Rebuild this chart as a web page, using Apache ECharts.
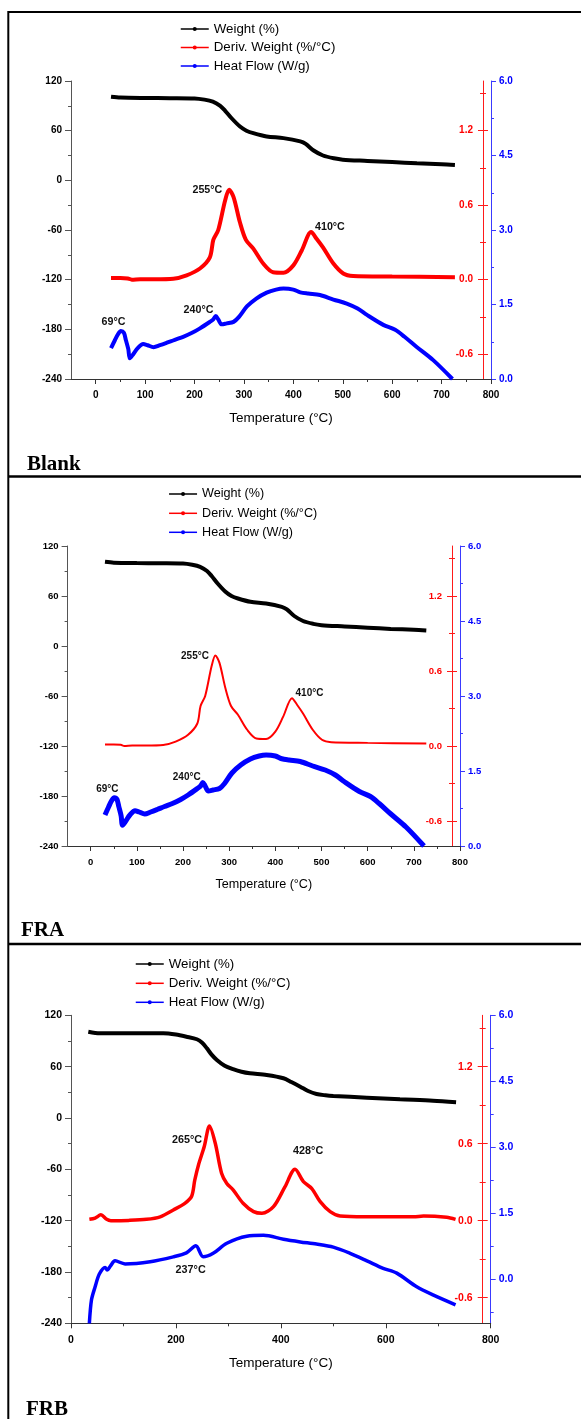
<!DOCTYPE html>
<html><head><meta charset="utf-8">
<script src="https://cdn.jsdelivr.net/npm/echarts@6/dist/echarts.min.js"></script>
<style>html,body{margin:0;padding:0;background:#fff}#c{width:581px;height:1419px}</style>
</head><body><div id="c"></div>
<script>
// ---------- tick labels ----------
const xTicks100 = [0,100,200,300,400,500,600,700,800];
const xMinor100 = [50,150,250,350,450,550,650,750];
const xTicks200 = [0,200,400,600,800];
const xMinor200 = [100,300,500,700];
const derivTicks = [-0.6,0,0.6,1.2];
const derivMinor = [-0.3,0.3,0.9,1.5];
const heatTicks = [0,1.5,3,4.5,6];
const heatMinorAB = [0.75,2.25,3.75,5.25];
const heatMinorC = [-0.75,0.75,2.25,3.75,5.25];
const seriesNames = ['Weight (%)','Deriv. Weight (%/°C)','Heat Flow (W/g)'];
const panelNames = ['Blank','FRA','FRB'];

// ---------- Blank (FRA curves are identical in the picture) ----------
const blankWeightT = [31,50,100,150,200,220,237,252,262,275,292,305,319,346,380,414,425,441,460,482,500,550,600,650,700,727];
const blankWeight  = [101,100,99.5,99.3,99,97.5,95,90,84,75,65,60,57,53,51,47,44,36,30,26.6,25,23.5,22,20.5,19.5,18.6];
const blankDerivT = [31,50,65,73,90,120,157,184,211,231,238,248,262,270,279,292,304,319,339,359,380,400,417,436,447,460,481,501,521,600,727];
const blankDeriv  = [0.013,0.013,0.01,0.0,0.004,0.004,0.008,0.035,0.09,0.18,0.32,0.40,0.64,0.725,0.665,0.46,0.32,0.25,0.13,0.06,0.056,0.115,0.235,0.383,0.33,0.26,0.13,0.05,0.03,0.025,0.02];
const blankHeatT = [31,39,45,51,57,61,66,69,76,85,96,105,117,130,144,160,177,195,211,231,238,243,248,255,265,279,290,306,325,346,365,380,400,414,430,454,481,508,530,549,582,606,625,649,683,722];
const blankHeat  = [0.62,0.785,0.9,0.966,0.93,0.785,0.6,0.416,0.50,0.62,0.705,0.68,0.64,0.68,0.73,0.79,0.85,0.93,1.02,1.15,1.2,1.27,1.2,1.10,1.12,1.15,1.25,1.46,1.62,1.74,1.80,1.82,1.80,1.745,1.72,1.69,1.6,1.52,1.42,1.29,1.09,0.99,0.85,0.65,0.38,0.0];
const blankDerivNotes = [{name:'255°C', T:226, v:0.72},{name:'410°C', T:474, v:0.42}];
const blankHeatNotes  = [{name:'69°C', T:36, v:1.14},{name:'240°C', T:208, v:1.38}];

// ---------- FRB ----------
const frbWeightT = [33,55,100,150,176,200,220,240,250,259,268,278,293,309,325,341,373,405,420,437,452,468,485,500,564,627,690,734];
const frbWeight  = [100.8,99,99,99,99,97.5,95,92,88,81.4,74,67.8,61,57,54,52.2,50.2,46.4,42,36.6,31.5,28,26.5,25.7,23.7,21.8,20.2,18.3];
const frbDerivT = [35,46,57,68,76,110,144,170,195,217,230,236,243,254,264,275,287,297,309,328,348,364,386,408,427,443,459,475,494,513,560,610,653,672,716,733];
const frbDeriv  = [0.01,0.02,0.045,0.01,0.0,0.002,0.01,0.03,0.083,0.135,0.19,0.317,0.434,0.577,0.738,0.603,0.37,0.29,0.24,0.135,0.07,0.057,0.109,0.265,0.40,0.304,0.25,0.148,0.07,0.036,0.03,0.03,0.03,0.036,0.026,0.01];
const frbHeatT = [35,39,46,54,65,69,75,84,103,151,195,220,238,252,271,297,335,367,405,437,468,500,532,564,595,621,659,691,733];
const frbHeat  = [-1.0,-0.47,-0.17,0.12,0.27,0.21,0.3,0.42,0.35,0.4,0.51,0.60,0.76,0.51,0.59,0.82,0.98,1.0,0.91,0.85,0.80,0.73,0.59,0.42,0.25,0.14,-0.17,-0.36,-0.58];
const frbDerivNotes = [{name:'265°C', T:221, v:0.63},{name:'428°C', T:452, v:0.545}];
const frbHeatNotes  = [{name:'237°C', T:228, v:0.21}];

const SANS = 'Arial, "Liberation Sans", sans-serif';
const SERIF = '"Times New Roman", "Liberation Serif", serif';

function pairs(t, v){ return t.map((x,i)=>[x, v[i]]); }

const panels = [
  {left:71, top:81, width:420, height:298, xMin:-50, xTicks:xTicks100, xMinor:xMinor100, hMin:0, hMinor:heatMinorAB,
   axisFont:10, titleFont:13.5, nameGap:32, xMargin:11, legFont:13.3, legLeft:180, legTops:[29,47.5,66], annFont:10.7,
   widths:[4,4,4], label:{text:'Blank', x:27, y:465},
   d:{wT:blankWeightT,w:blankWeight,dT:blankDerivT,dv:blankDeriv,hT:blankHeatT,h:blankHeat,dn:blankDerivNotes,hn:blankHeatNotes}},
  {left:67.6, top:546, width:392.4, height:300, xMin:-50, xTicks:xTicks100, xMinor:xMinor100, hMin:0, hMinor:heatMinorAB,
   axisFont:9.5, titleFont:12.6, nameGap:32, xMargin:11, legFont:12.6, legLeft:168.3, legTops:[494,513.3,532.3], annFont:10,
   widths:[4,2,5], label:{text:'FRA', x:21, y:931},
   d:{wT:blankWeightT,w:blankWeight,dT:blankDerivT,dv:blankDeriv,hT:blankHeatT,h:blankHeat,dn:blankDerivNotes,hn:blankHeatNotes}},
  {left:71, top:1015.3, width:419.7, height:308, xMin:0, xTicks:xTicks200, xMinor:xMinor200, hMin:-1, hMinor:heatMinorC,
   axisFont:10.5, titleFont:13.5, nameGap:33, xMargin:11.5, legFont:13.3, legLeft:135, legTops:[964,983.3,1002.3], annFont:10.8,
   widths:[4,3.5,3.5], label:{text:'FRB', x:26, y:1410},
   d:{wT:frbWeightT,w:frbWeight,dT:frbDerivT,dv:frbDeriv,hT:frbHeatT,h:frbHeat,dn:frbDerivNotes,hn:frbHeatNotes}}
];

const grids=[], xAxes=[], yAxes=[], series=[], legends=[], graphics=[];
const colors = ['#000000','#ff0000','#0000ff'];

panels.forEach((p, pi) => {
  const gi = grids.length;
  grids.push({left:p.left, top:p.top, width:p.width, height:p.height, containLabel:false});
  const af = {fontFamily:SANS, fontWeight:'bold', fontSize:p.axisFont};
  const xi = xAxes.length;
  xAxes.push({type:'value', gridIndex:gi, min:p.xMin, max:800, position:'bottom',
    axisLine:{show:true, onZero:false, lineStyle:{color:'#333', width:1}},
    axisTick:{show:true, customValues:p.xTicks, length:5, lineStyle:{color:'#333'}},
    axisLabel:{show:true, customValues:p.xTicks, margin:p.xMargin, color:'#000', ...af},
    splitLine:{show:false},
    name:'Temperature (°C)', nameLocation:'middle', nameGap:p.nameGap,
    nameTextStyle:{fontFamily:SANS, fontSize:p.titleFont, color:'#000'}});
  xAxes.push({type:'value', gridIndex:gi, min:p.xMin, max:800, position:'bottom',
    axisLine:{show:false, onZero:false}, axisLabel:{show:false}, splitLine:{show:false},
    axisTick:{show:true, customValues:p.xMinor, length:3, lineStyle:{color:'#333'}}});

  const yl = yAxes.length;
  yAxes.push({type:'value', gridIndex:gi, position:'left', min:-240, max:120, interval:60,
    axisLine:{show:true, onZero:false, lineStyle:{color:'#555'}},
    axisTick:{show:true, length:6, lineStyle:{color:'#555'}},
    minorTick:{show:true, splitNumber:2, length:3, lineStyle:{color:'#555'}},
    axisLabel:{color:'#000', margin:9, ...af}, splitLine:{show:false}});

  const redBase = {type:'value', gridIndex:gi, position:'right', offset:-8, min:-0.8, max:1.6, splitLine:{show:false}};
  const yr = yAxes.length;
  yAxes.push({...redBase, axisLine:{show:true, onZero:false, lineStyle:{color:'#ff1a1a'}},
    axisTick:{show:true, inside:true, length:5, customValues:derivTicks, lineStyle:{color:'#ff1a1a'}},
    axisLabel:{show:true, inside:true, customValues:derivTicks, formatter:v=>Number(v).toFixed(1), margin:10, color:'#ff0000', ...af}});
  yAxes.push({...redBase, axisLine:{show:false, onZero:false}, axisLabel:{show:false},
    axisTick:{show:true, inside:false, length:5, customValues:derivTicks, lineStyle:{color:'#ff1a1a'}}});
  yAxes.push({...redBase, axisLine:{show:false, onZero:false}, axisLabel:{show:false},
    axisTick:{show:true, inside:true, length:3, customValues:derivMinor, lineStyle:{color:'#ff1a1a'}}});
  yAxes.push({...redBase, axisLine:{show:false, onZero:false}, axisLabel:{show:false},
    axisTick:{show:true, inside:false, length:3, customValues:derivMinor, lineStyle:{color:'#ff1a1a'}}});

  const blueBase = {type:'value', gridIndex:gi, position:'right', offset:0, min:p.hMin, max:6, splitLine:{show:false}};
  const yb = yAxes.length;
  yAxes.push({...blueBase, axisLine:{show:true, onZero:false, lineStyle:{color:'#3a3aff'}},
    axisTick:{show:true, length:5, customValues:heatTicks, lineStyle:{color:'#3a3aff'}},
    axisLabel:{show:true, customValues:heatTicks, formatter:v=>Number(v).toFixed(1), margin:8, color:'#0000ff', ...af}});
  yAxes.push({...blueBase, axisLine:{show:false, onZero:false}, axisLabel:{show:false},
    axisTick:{show:true, length:3, customValues:p.hMinor, lineStyle:{color:'#3a3aff'}}});

  const d = p.d;
  const mk = (notes) => ({
    symbol:'circle', symbolSize:1, itemStyle:{color:'rgba(0,0,0,0)'},
    label:{show:true, position:'inside', formatter:'{b}', color:'#111', fontFamily:SANS, fontWeight:'bold', fontSize:p.annFont},
    data: notes.map(n => ({name:n.name, coord:[n.T, n.v]}))
  });
  const common = {type:'line', xAxisIndex:xi, showSymbol:false, symbol:'circle', symbolSize:4, smooth:0.3,
    silent:true, animation:false, emphasis:{disabled:true}};
  series.push({...common, name:seriesNames[0], yAxisIndex:yl, data:pairs(d.wT, d.w),
    lineStyle:{color:colors[0], width:p.widths[0]}, itemStyle:{color:colors[0]}, z:3});
  series.push({...common, name:seriesNames[1], yAxisIndex:yr, data:pairs(d.dT, d.dv),
    lineStyle:{color:colors[1], width:p.widths[1]}, itemStyle:{color:colors[1]}, z:3, markPoint:mk(d.dn)});
  series.push({...common, name:seriesNames[2], yAxisIndex:yb, data:pairs(d.hT, d.h),
    lineStyle:{color:colors[2], width:p.widths[2]}, itemStyle:{color:colors[2]}, z:3, markPoint:mk(d.hn)});

  seriesNames.forEach((n, k) => {
    legends.push({data:[n], left:p.legLeft, top:p.legTops[k]-8, orient:'vertical', padding:0, itemGap:0,
      itemWidth:28, itemHeight:5, selectedMode:false,
      lineStyle:{width:1.5}, textStyle:{fontFamily:SANS, fontSize:p.legFont, color:'#000', lineHeight:16}});
  });

  graphics.push({type:'text', x:p.label.x, y:p.label.y,
    style:{text:p.label.text, fontFamily:SERIF, fontWeight:'bold', fontSize:21, fill:'#000', verticalAlign:'middle', align:'left'}});
});

// frame lines
graphics.push({type:'line', shape:{x1:8.3, y1:12, x2:581, y2:12}, style:{stroke:'#000', lineWidth:2}});
graphics.push({type:'line', shape:{x1:8.3, y1:11, x2:8.3, y2:1419}, style:{stroke:'#000', lineWidth:2}});
graphics.push({type:'line', shape:{x1:8.3, y1:476.5, x2:581, y2:476.5}, style:{stroke:'#000', lineWidth:2.5}});
graphics.push({type:'line', shape:{x1:8.3, y1:944, x2:581, y2:944}, style:{stroke:'#000', lineWidth:2.5}});

const chart = echarts.init(document.getElementById('c'), null, {renderer:'canvas'});
chart.setOption({
  animation:false,
  backgroundColor:'#fff',
  grid:grids, xAxis:xAxes, yAxis:yAxes, series:series, legend:legends,
  graphic:{elements:graphics}
});
</script></body></html>
